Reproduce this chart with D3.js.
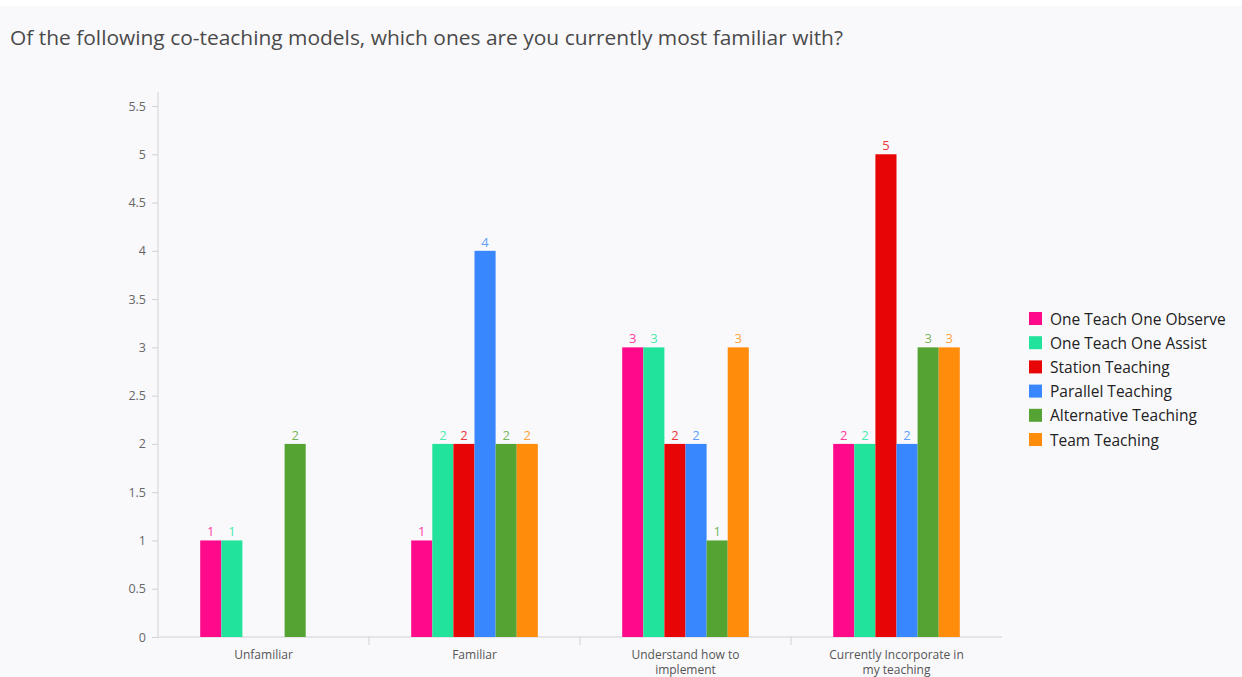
<!DOCTYPE html>
<html>
<head>
<meta charset="utf-8">
<script src="https://cdn.jsdelivr.net/npm/d3@7"></script>
<style>
  html, body { margin: 0; padding: 0; background: #ffffff; }
  svg { display: block; }
</style>
</head>
<body>
<script>
// Survey responses: familiarity with co-teaching models
const categories = ["Unfamiliar", "Familiar", "Understand how to implement", "Currently Incorporate in my teaching"];
const categoryLines = [["Unfamiliar"], ["Familiar"], ["Understand how to", "implement"], ["Currently Incorporate in", "my teaching"]];
const seriesNames = ["One Teach One Observe", "One Teach One Assist", "Station Teaching", "Parallel Teaching", "Alternative Teaching", "Team Teaching"];
const oneTeachOneObserve = [1, 1, 3, 2];
const oneTeachOneAssist  = [1, 2, 3, 2];
const stationTeaching    = [0, 2, 2, 5];
const parallelTeaching   = [0, 4, 2, 2];
const alternativeTeaching = [2, 2, 1, 3];
const teamTeaching       = [0, 2, 3, 3];
const yTicks = [0, 0.5, 1, 1.5, 2, 2.5, 3, 3.5, 4, 4.5, 5, 5.5];
const colors = ["#ff0a8a", "#21e39b", "#e80505", "#3987ff", "#55a332", "#ff8c0a"];

const seriesValues = [oneTeachOneObserve, oneTeachOneAssist, stationTeaching, parallelTeaching, alternativeTeaching, teamTeaching];

const W = 1242, H = 677;
const svg = d3.select("body").append("svg").attr("width", W).attr("height", H);

svg.append("rect").attr("x", 0).attr("y", 6).attr("width", W).attr("height", H - 6).attr("fill", "#f9f9fc");

svg.append("text")
  .attr("x", 10).attr("y", 45)
  .attr("font-family", "Open Sans, sans-serif")
  .attr("font-size", 20.5)
  .attr("fill", "#4a4a4a")
  .attr("textLength", 833)
  .attr("lengthAdjust", "spacingAndGlyphs")
  .text("Of the following co-teaching models, which ones are you currently most familiar with?");

const plotLeft = 158, plotRight = 1002, plotTop = 106, plotBottom = 637;

const x = d3.scaleBand().domain(categories).range([plotLeft, plotRight]).paddingInner(0).paddingOuter(0);
const xInner = d3.scaleBand().domain(seriesNames).range([0, x.bandwidth()]).paddingOuter(2.0).paddingInner(0);
const y = d3.scaleLinear().domain([0, 5.5]).range([plotBottom, plotTop]);

// y axis
const yAxis = svg.append("g").attr("transform", `translate(${plotLeft},0)`)
  .call(d3.axisLeft(y).tickValues(yTicks).tickFormat(d => String(d)).tickSize(6).tickPadding(6));
yAxis.select(".domain").attr("stroke", "#d0d0d6").attr("d", `M0,${plotTop - 14}V${plotBottom}`);
yAxis.selectAll(".tick line").attr("stroke", "#d0d0d6");
yAxis.selectAll(".tick text").attr("fill", "#666").attr("font-size", 12.5).attr("font-family", "Open Sans, sans-serif");

// x axis
const xAxis = svg.append("g").attr("transform", `translate(0,${plotBottom})`)
  .call(d3.axisBottom(x).tickSize(0).tickFormat(""));
xAxis.select(".domain").attr("stroke", "#d0d0d6").attr("d", `M${plotLeft},0H${plotRight}`);
xAxis.selectAll(".tick line").remove();
// band separators
const seps = categories.slice(1).map(c => x(c));
xAxis.selectAll(".sep").data(seps).enter().append("line")
  .attr("x1", d => d).attr("x2", d => d).attr("y1", 0).attr("y2", 8)
  .attr("stroke", "#d0d0d6");

// category labels, one text per line
categories.forEach((c, i) => {
  categoryLines[i].forEach((line, j) => {
    svg.append("text")
      .attr("x", x(c) + x.bandwidth() / 2)
      .attr("y", plotBottom + 22 + j * 15)
      .attr("text-anchor", "middle")
      .attr("font-family", "Open Sans, sans-serif")
      .attr("font-size", 12)
      .attr("fill", "#555")
      .text(line);
  });
});

// bars
const lighten = c => d3.interpolateRgb(c, "#ffffff")(0.2);
seriesNames.forEach((s, si) => {
  const g = svg.append("g");
  const data = categories.map((c, ci) => ({ c, v: seriesValues[si][ci] })).filter(d => d.v > 0);
  g.selectAll("rect").data(data).enter().append("rect")
    .attr("x", d => x(d.c) + xInner(s))
    .attr("y", d => y(d.v))
    .attr("width", xInner.bandwidth())
    .attr("height", d => y(0) - y(d.v))
    .attr("fill", colors[si]);
  g.selectAll("text").data(data).enter().append("text")
    .attr("x", d => x(d.c) + xInner(s) + xInner.bandwidth() / 2)
    .attr("y", d => y(d.v) - 4)
    .attr("text-anchor", "middle")
    .attr("font-family", "Open Sans, sans-serif")
    .attr("font-size", 13)
    .attr("fill", lighten(colors[si]))
    .text(d => d.v);
});

// legend
const legend = svg.append("g").attr("transform", "translate(1029,312)");
seriesNames.forEach((s, i) => {
  const row = legend.append("g").attr("transform", `translate(0,${i * 24.2})`);
  row.append("rect").attr("width", 13).attr("height", 13).attr("fill", colors[i]);
  row.append("text").attr("x", 21).attr("y", 12.5)
    .attr("font-family", "Open Sans, sans-serif")
    .attr("font-size", 15.5)
    .attr("fill", "#222")
    .text(s);
});
</script>
</body>
</html>
